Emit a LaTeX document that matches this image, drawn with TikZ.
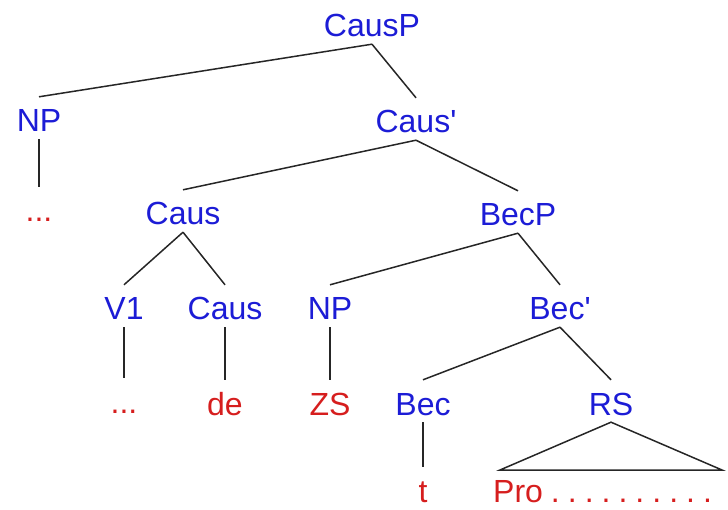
\documentclass[tikz,border=0pt]{standalone}
\usepackage{fontspec}
\setmainfont{Liberation Sans}
\definecolor{catblue}{RGB}{28,28,214}
\definecolor{leafred}{RGB}{214,30,30}
\tikzset{
    every node/.style={inner sep=0pt, anchor=base, text height=35pt,
    	text depth=7pt, font=\fontsize{32}{38}\selectfont, text=catblue}
}
\tikzset{
    leaf/.style={text=leafred}
}
\tikzset{
    every edge/.append style={line width=1.5pt, draw=black!85}
}

\begin{document}
\begin{tikzpicture}[x=1pt, y=-1pt]
	\useasboundingbox (0,0) rectangle (728,510);
	\node (causp) at (372, 37) {CausP};
	\node (np1) at (39, 132) {NP};
	\node (causbar) at (416, 133) {Caus\textquotesingle};
	\node (dots1) [leaf] at (39, 222) {...};
	\node (caus) at (183, 225) {Caus};
	\node (becp) at (518, 226) {BecP};
	\node (v1) at (124, 320) {V1};
	\node (caus2) at (225, 320) {Caus};
	\node (np2) at (330, 320) {NP};
	\node (becbar) at (560, 320) {Bec\textquotesingle};
	\node (dots2) [leaf] at (124, 413) {...};
	\node (de) [leaf] at (225, 415) {de};
	\node (zs) [leaf] at (330, 415) {ZS};
	\node (bec) at (423, 415) {Bec};
	\node (rs) at (611, 415) {RS};
	% bottom row sits close to the edge
	\node (t) [leaf, text depth=1pt] at (423, 502) {t};
	\node (pro) [leaf, text depth=1pt, anchor=base west] at (493, 502)
		{Pro\foreach \i in {1,...,10}{\hspace{8pt}.}};
	\coordinate (rsl) at (500, 470);
	\coordinate (rsr) at (722, 470);

	\draw (causp.south) edge (np1.north); \draw (causp.south) edge (causbar.north);
	\draw (np1.south) edge (dots1.north);
	\draw (causbar.south) edge (caus.north); \draw (causbar.south) edge (becp.north);
	\draw (caus.south) edge (v1.north); \draw (caus.south) edge (caus2.north);
	\draw (becp.south) edge (np2.north); \draw (becp.south) edge (becbar.north);
	\draw (v1.south) edge (dots2.north); \draw (caus2.south) edge (de.north);
	\draw (np2.south) edge (zs.north);
	\draw (becbar.south) edge (bec.north); \draw (becbar.south) edge (rs.north);
	\draw (bec.south) edge (t.north);
	\draw [line width=1.5pt, draw=black!85] (rs.south) -- (rsl) -- (rsr) -- cycle;
\end{tikzpicture}
\end{document}
